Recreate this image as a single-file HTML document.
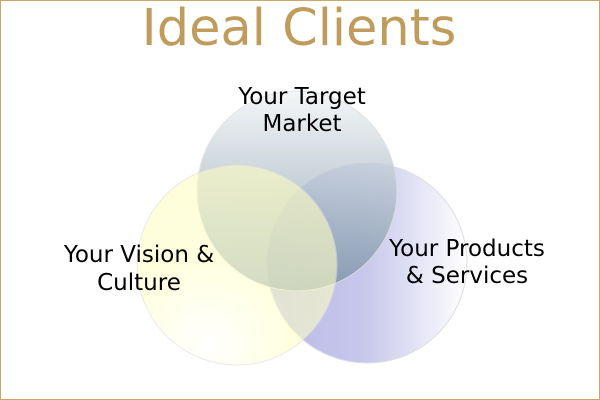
<!DOCTYPE html>
<html><head><style>
html,body{margin:0;padding:0;background:#fff}
svg{display:block}
</style></head><body>
<svg width="600" height="400" viewBox="0 0 600 400" xmlns="http://www.w3.org/2000/svg">
<defs>
<linearGradient id="gt" x1="0" y1="0" x2="0" y2="1">
<stop offset="0" stop-color="#f2f5f5"/><stop offset="1" stop-color="#7890a6"/></linearGradient>
<radialGradient id="gl" cx="0.35" cy="0.9" r="0.9">
<stop offset="0" stop-color="#ffffff"/><stop offset="0.5" stop-color="#ffffc8"/><stop offset="1" stop-color="#fdfdc0"/></radialGradient>
<linearGradient id="gr" x1="0" y1="0" x2="1" y2="0">
<stop offset="0" stop-color="#b4b4e4"/><stop offset="0.5" stop-color="#c6c6ec"/><stop offset="1" stop-color="#ffffff"/></linearGradient>
</defs>
<rect x="0.5" y="0.5" width="599" height="399" fill="#fff" stroke="#c8a868"/>
<text x="299" y="45" text-anchor="middle" font-family="DejaVu Sans, sans-serif" font-size="51" fill="#c09c5c">Ideal Clients</text>
<circle cx="367" cy="263" r="100" fill="url(#gr)" stroke="#ddd" opacity="0.95"/>
<circle cx="297" cy="191" r="100" fill="url(#gt)" stroke="#ddd" opacity="0.8"/>
<circle cx="237" cy="265" r="100" fill="url(#gl)" stroke="#ddd" opacity="0.6"/>
<g font-family="DejaVu Sans, sans-serif" font-size="23" fill="#000" text-anchor="middle">
<text x="302" y="104">Your Target</text>
<text x="302" y="131">Market</text>
<text x="139" y="262">Your Vision &amp;</text>
<text x="139" y="290">Culture</text>
<text x="467" y="256">Your Products</text>
<text x="467" y="283">&amp; Services</text>
</g>
</svg>
</body></html>
